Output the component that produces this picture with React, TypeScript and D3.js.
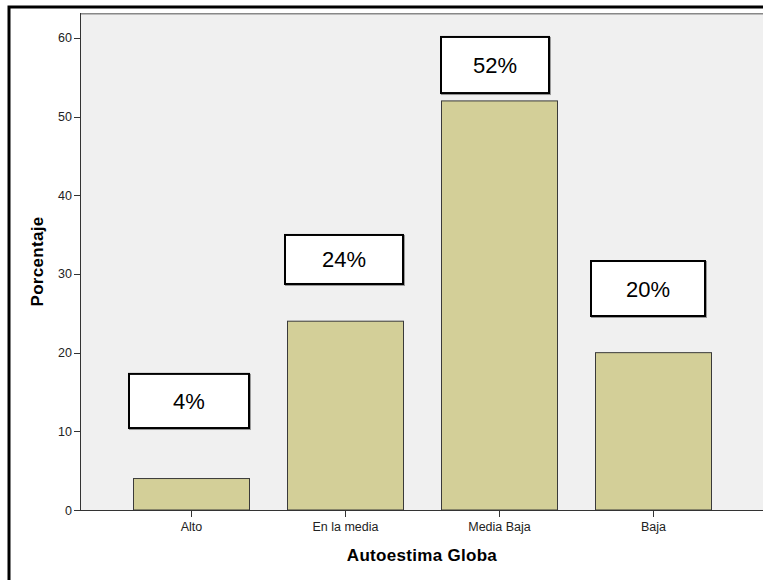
import React from "react";
import * as d3 from "d3";

const categories = ["Alto", "En la media", "Media Baja", "Baja"];
const values = [4, 24, 52, 20];
const labels = ["4%", "24%", "52%", "20%"];
const yTicks = [0, 10, 20, 30, 40, 50, 60];

// annotation boxes (layout, in value units for y, px offsets for x)
const boxTop = [17.3, 34.96, 60.13, 31.65];
const boxBottom = [10.42, 28.73, 53.0, 24.66];
const boxDx = [-4, -2, 0, -4];
const boxW = [120, 118, 108, 114];

export default function App() {
  const W = 763, H = 580;
  const left = 80, right = 764, top = 13, bottom = 510;
  const y = d3.scaleLinear().domain([0, (bottom - top) / 7.867]).range([bottom, top]);
  const x = d3.scaleBand<string>().domain(categories).range([114, 730]).paddingInner(0.2468).paddingOuter(0.1234);
  const font = "Arial, 'Liberation Sans', sans-serif";
  return (
    <svg width={W} height={H} style={{ position: "absolute", left: 0, top: 0 }} fontFamily={font}>
      <rect x={0} y={0} width={W} height={H} fill="#fff" />
      <rect x={9} y={7} width={W + 10} height={H + 10} fill="none" stroke="#000" strokeWidth={3} />
      <rect x={left} y={top} width={right - left} height={bottom - top} fill="#f0f0f0" />
      <line x1={left} x2={right} y1={top + 0.5} y2={top + 0.5} stroke="#888" strokeWidth={1} />
      <line x1={left} x2={right} y1={top + 1.5} y2={top + 1.5} stroke="#bbb" strokeWidth={1} />
      {categories.map((c, i) => (
        <rect key={c} x={x(c)! + 0.5} y={y(values[i])} width={x.bandwidth()} height={y(0) - y(values[i])}
          fill="#d3cf98" stroke="#3a3a3a" strokeWidth={1} />
      ))}
      <line x1={left + 0.5} x2={left + 0.5} y1={top} y2={bottom} stroke="#333" />
      <line x1={left} x2={right} y1={bottom + 0.5} y2={bottom + 0.5} stroke="#333" />
      {yTicks.map(t => (
        <g key={t}>
          <line x1={74} x2={left} y1={Math.round(y(t)) + 0.5} y2={Math.round(y(t)) + 0.5} stroke="#333" />
          <text x={72} y={y(t) + 4.5} fontSize={12.5} textAnchor="end" fill="#222">{t}</text>
        </g>
      ))}
      {categories.map(c => {
        const cx = Math.round(x(c)! + x.bandwidth() / 2) + 0.5;
        return (
          <g key={c}>
            <line x1={cx} x2={cx} y1={bottom} y2={bottom + 7} stroke="#333" />
            <text x={cx} y={531} fontSize={12.5} textAnchor="middle" fill="#222">{c}</text>
          </g>
        );
      })}
      <text x={422} y={561} fontSize={17} fontWeight="bold" textAnchor="middle" letterSpacing={0.3} fill="#000">Autoestima Globa</text>
      <text transform={`translate(43,${(top + bottom) / 2}) rotate(-90)`} fontSize={17} fontWeight="bold" textAnchor="middle" letterSpacing={0.3} fill="#000">Porcentaje</text>
      {categories.map((c, i) => {
        const bx = x(c)! + boxDx[i];
        const by = y(boxTop[i]);
        const bh = y(boxBottom[i]) - by;
        return (
          <g key={"b" + c}>
            <rect x={bx + 1} y={by + 1} width={boxW[i]} height={bh} fill="none" stroke="#999" strokeWidth={2} />
            <rect x={bx} y={by} width={boxW[i]} height={bh} fill="#fff" stroke="#000" strokeWidth={2} />
            <text x={bx + boxW[i] / 2} y={by + bh / 2 + 8} fontSize={22} textAnchor="middle" fill="#000">{labels[i]}</text>
          </g>
        );
      })}
    </svg>
  );
}
